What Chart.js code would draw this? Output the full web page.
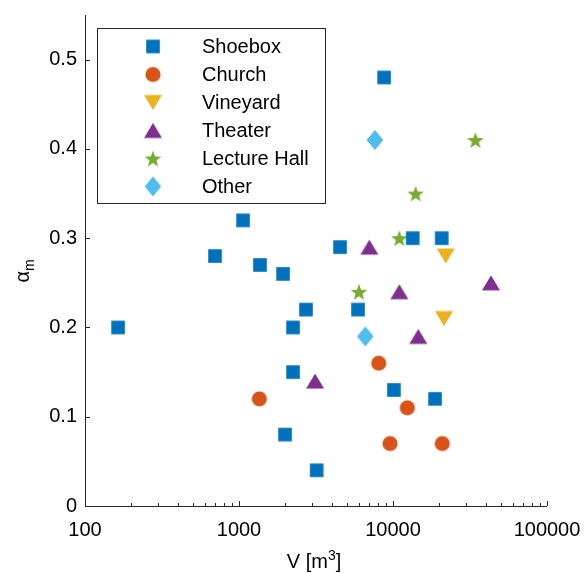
<!DOCTYPE html>
<html>
<head>
<meta charset="utf-8">
<script src="https://cdn.jsdelivr.net/npm/chart.js@4.4.1/dist/chart.umd.min.js"></script>
<style>
  html, body { margin: 0; padding: 0; background: #fff; }
  #wrap { width: 587px; height: 573px; }
</style>
</head>
<body>
<div id="wrap"><canvas id="chart" width="587" height="573"></canvas></div>
<script>
// values (V in m^3, alpha_m)
const shoeboxV = [164, 698, 1062, 1368, 1932, 2723, 2244, 2244, 1991, 3192, 4530, 5930, 13430, 20710, 8750, 10140, 18750];
const shoeboxA = [0.20, 0.28, 0.32, 0.27, 0.26, 0.22, 0.20, 0.15, 0.08, 0.04, 0.29, 0.22, 0.30, 0.30, 0.48, 0.13, 0.12];
const churchV = [1355, 8075, 12390, 9570, 20890];
const churchA = [0.12, 0.16, 0.11, 0.07, 0.07];
const vineyardV = [21980, 21430];
const vineyardA = [0.28, 0.21];
const theaterV = [7020, 10990, 43260, 14590, 3120];
const theaterA = [0.29, 0.24, 0.25, 0.19, 0.14];
const lectureV = [34280, 14030, 10990, 6010];
const lectureA = [0.41, 0.35, 0.30, 0.24];
const otherV = [7640, 6610];
const otherA = [0.41, 0.19];

const seriesNames = ['Shoebox', 'Church', 'Vineyard', 'Theater', 'Lecture Hall', 'Other'];
const xTicks = [100, 1000, 10000, 100000];
const yTicks = [0, 0.1, 0.2, 0.3, 0.4, 0.5];

const colors = ['#0072BD', '#D95319', '#EDB120', '#7E2F8E', '#77AC30', '#4DBEEE'];
const shapes = ['square', 'circle', 'down', 'up', 'star', 'diamond'];
const FONT = '"Liberation Sans", Arial, Helvetica, sans-serif';
const AXIS = '#262626';

// marker images, centred on their bounding box
function makeMarker(shape, color) {
  const c = document.createElement('canvas');
  const s = 24;
  c.width = s; c.height = s;
  const g = c.getContext('2d');
  const m = s / 2;
  g.fillStyle = color;
  g.beginPath();
  if (shape === 'square') {
    g.rect(m - 6.8, m - 6.8, 13.6, 13.6);
  } else if (shape === 'circle') {
    g.arc(m, m, 7.6, 0, Math.PI * 2);
  } else if (shape === 'up') {
    g.moveTo(m, m - 7.5); g.lineTo(m + 9, m + 7.5); g.lineTo(m - 9, m + 7.5);
  } else if (shape === 'down') {
    g.moveTo(m, m + 7.5); g.lineTo(m + 9, m - 7.5); g.lineTo(m - 9, m - 7.5);
  } else if (shape === 'diamond') {
    g.moveTo(m, m - 10); g.lineTo(m + 8.3, m); g.lineTo(m, m + 10); g.lineTo(m - 8.3, m);
  } else if (shape === 'star') {
    const R = 8.8, r = 3.6;
    for (let i = 0; i < 10; i++) {
      const rad = (i % 2 === 0) ? R : r;
      const a = -Math.PI / 2 + i * Math.PI / 5;
      const px = m + rad * Math.cos(a), py = m + 1 + rad * Math.sin(a);
      if (i === 0) g.moveTo(px, py); else g.lineTo(px, py);
    }
  }
  g.closePath();
  g.fill();
  return c;
}
const markers = shapes.map((s, i) => makeMarker(s, colors[i]));

function pts(xs, ys) { return xs.map((x, i) => ({ x: x, y: ys[i] })); }
const allV = [shoeboxV, churchV, vineyardV, theaterV, lectureV, otherV];
const allA = [shoeboxA, churchA, vineyardA, theaterA, lectureA, otherA];

const datasets = seriesNames.map((name, i) => ({
  label: name,
  data: pts(allV[i], allA[i]),
  pointStyle: markers[i],
  backgroundColor: colors[i],
  borderColor: colors[i],
  showLine: false
}));

const axesPlugin = {
  id: 'axesDecor',
  afterDraw(chart) {
    const ctx = chart.ctx;
    const xs = chart.scales.x, ys = chart.scales.y;
    const area = chart.chartArea;
    ctx.save();
    ctx.strokeStyle = AXIS;
    ctx.lineWidth = 1;
    // axis lines
    ctx.beginPath();
    ctx.moveTo(area.left + 0.5, area.top);
    ctx.lineTo(area.left + 0.5, area.bottom + 0.5);
    ctx.lineTo(area.right, area.bottom + 0.5);
    ctx.stroke();
    // y ticks, inward
    ctx.beginPath();
    yTicks.forEach(v => {
      const py = Math.round(ys.getPixelForValue(v)) + 0.5;
      ctx.moveTo(area.left, py); ctx.lineTo(area.left + 5, py);
    });
    // x ticks, inward (major + minor per decade)
    for (let d = 0; d < xTicks.length; d++) {
      const base = xTicks[d];
      const px = Math.round(xs.getPixelForValue(base)) + 0.5;
      ctx.moveTo(px, area.bottom); ctx.lineTo(px, area.bottom - 5);
      if (d < xTicks.length - 1) {
        for (let k = 2; k < 10; k++) {
          const mx = Math.round(xs.getPixelForValue(base * k)) + 0.5;
          ctx.moveTo(mx, area.bottom); ctx.lineTo(mx, area.bottom - 3);
        }
      }
    }
    ctx.stroke();

    // legend box
    const lx = 97, ly = 28, lw = 228, lh = 175;
    ctx.fillStyle = '#fff';
    ctx.fillRect(lx, ly, lw, lh);
    ctx.strokeRect(lx + 0.5, ly + 0.5, lw, lh);
    ctx.font = '20px ' + FONT;
    ctx.textBaseline = 'middle';
    ctx.textAlign = 'left';
    ctx.fillStyle = '#000';
    seriesNames.forEach((name, i) => {
      const cy = ly + 18.5 + i * 28;
      const mk = markers[i];
      ctx.drawImage(mk, 153 - mk.width / 2, cy - mk.height / 2);
      ctx.fillText(name, 202, cy + 1);
    });

    // axis titles
    ctx.fillStyle = '#000';
    ctx.textBaseline = 'alphabetic';
    ctx.font = '20px ' + FONT;
    const vW = ctx.measureText('V [m').width;
    ctx.font = '14px ' + FONT;
    const supW = ctx.measureText('3').width;
    ctx.font = '20px ' + FONT;
    const brW = ctx.measureText(']').width;
    const total = vW + supW + brW;
    let tx = 314 - total / 2;
    const by = 568;
    ctx.fillText('V [m', tx, by);
    ctx.font = '14px ' + FONT;
    ctx.fillText('3', tx + vW, by - 8);
    ctx.font = '20px ' + FONT;
    ctx.fillText(']', tx + vW + supW, by);

    ctx.translate(29, 271);
    ctx.rotate(-Math.PI / 2);
    const aW = ctx.measureText('\u03b1').width;
    ctx.font = '14px ' + FONT;
    const mW = ctx.measureText('m').width;
    ctx.font = '20px ' + FONT;
    const sx = -(aW + mW) / 2;
    ctx.fillText('\u03b1', sx, 0);
    ctx.font = '14px ' + FONT;
    ctx.fillText('m', sx + aW, 5);
    ctx.restore();
  }
};

new Chart(document.getElementById('chart'), {
  type: 'scatter',
  data: { datasets: datasets },
  plugins: [axesPlugin],
  options: {
    responsive: false,
    animation: false,
    events: [],
    layout: { padding: { left: 0, right: 40, top: 15, bottom: 0 } },
    plugins: { legend: { display: false }, tooltip: { enabled: false } },
    scales: {
      x: {
        type: 'logarithmic',
        min: 100,
        max: 100000,
        border: { display: false },
        grid: { display: false, drawTicks: false },
        afterBuildTicks(scale) { scale.ticks = xTicks.map(v => ({ value: v, major: true })); },
        afterFit(scale) {
          scale.height = 67;
          scale.paddingLeft = 0;
          scale.paddingRight = 0;
        },
        ticks: {
          color: '#000',
          font: { family: FONT, size: 20 },
          padding: 12,
          maxRotation: 0,
          autoSkip: false,
          callback: (v) => String(v)
        }
      },
      y: {
        min: 0,
        max: 0.55,
        border: { display: false },
        grid: { display: false, drawTicks: false },
        afterBuildTicks(scale) { scale.ticks = yTicks.map(v => ({ value: v })); },
        afterFit(scale) {
          scale.width = 85;
          scale.paddingTop = 0;
          scale.paddingBottom = 0;
        },
        ticks: {
          color: '#000',
          font: { family: FONT, size: 20 },
          padding: 8,
          callback: (v) => String(Math.round(v * 10) / 10)
        }
      }
    }
  }
});
</script>
</body>
</html>
